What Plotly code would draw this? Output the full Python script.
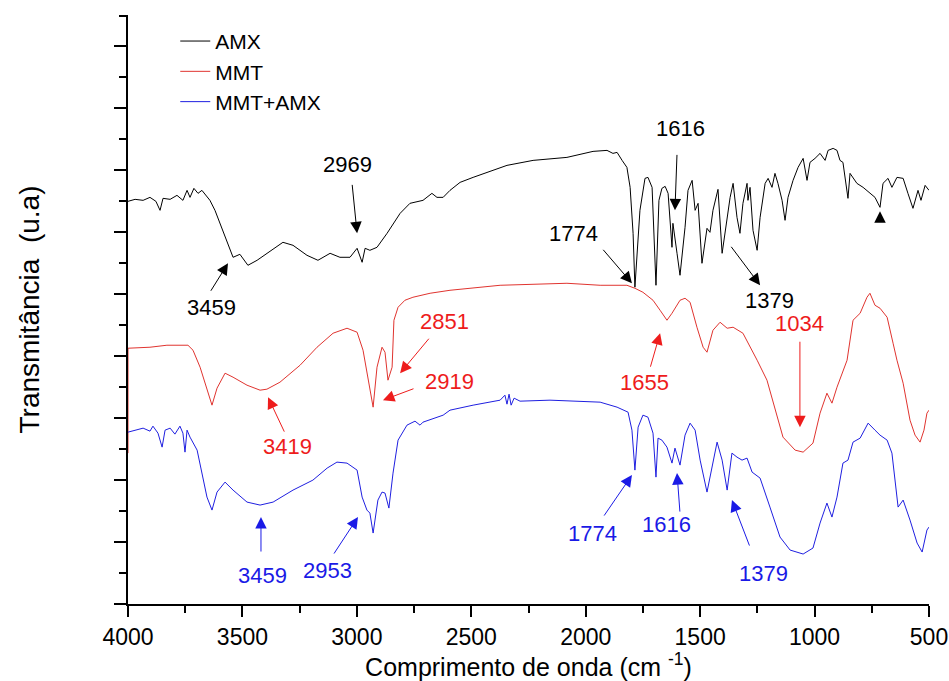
import plotly.graph_objects as go

# ---------------- data (wavenumber cm-1, transmittance in arbitrary units) ----------------
amx_x = [4000, 3969, 3934, 3904, 3878, 3860, 3847, 3816, 3786, 3760, 3742, 3729, 3712, 3694, 3677, 3659, 3642,
         3620, 3585, 3541, 3511, 3476, 3436, 3393, 3323, 3279, 3218, 3170, 3117, 3074, 3030, 2999, 2977, 2964,
         2943, 2912, 2868, 2811, 2768, 2711, 2672, 2650, 2623, 2593, 2549, 2492, 2431, 2388, 2344, 2230, 2082,
         1968, 1907, 1881, 1863, 1841, 1820, 1806, 1793, 1785, 1763, 1741, 1728, 1710, 1693, 1680, 1667, 1653,
         1640, 1623, 1619, 1601, 1588, 1566, 1553, 1535, 1522, 1509, 1492, 1470, 1457, 1444, 1422, 1404, 1391,
         1369, 1356, 1339, 1326, 1313, 1295, 1291, 1282, 1269, 1251, 1238, 1216, 1203, 1186, 1173, 1160, 1142,
         1129, 1116, 1094, 1072, 1050, 1033, 1020, 998, 976, 954, 941, 919, 902, 889, 876, 854, 845, 815, 788,
         758, 736, 714, 701, 679, 662, 640, 613, 592, 570, 548, 535, 517, 500]
amx_y = [403, 405, 404, 407, 403, 394, 406, 405, 409, 404, 414, 407, 416, 411, 414, 409, 404,
         394, 374, 347, 350, 339, 344, 351, 362, 359, 349, 344, 351, 347, 347, 356, 342, 356,
         354, 357, 371, 391, 401, 404, 411, 407, 407, 414, 422, 427, 432, 436, 439, 444, 447,
         453, 454, 451, 452, 444, 437, 417, 371, 317, 394, 426, 427, 417, 319, 404, 416, 418,
         411, 357, 381, 351, 329, 377, 414, 424, 394, 401, 341, 376, 372, 394, 415, 351, 371,
         407, 421, 387, 371, 401, 421, 404, 417, 374, 354, 387, 421, 426, 417, 431, 421, 404,
         384, 407, 424, 437, 446, 424, 442, 446, 451, 444, 454, 456, 454, 444, 442, 406, 431, 421, 417,
         411, 407, 397, 421, 426, 417, 427, 426, 411, 396, 414, 404, 419, 414]

mmt_x = [4000, 4000, 3904, 3830, 3738, 3716, 3685, 3655, 3633, 3611, 3576, 3541, 3480, 3423, 3393, 3336,
         3248, 3174, 3104, 3043, 2999, 2973, 2951, 2929, 2912, 2890, 2877, 2864, 2846, 2838, 2820, 2790,
         2755, 2680, 2593, 2374, 2082, 1937, 1820, 1785, 1750, 1706, 1675, 1645, 1623, 1588, 1566, 1544,
         1514, 1487, 1470, 1444, 1413, 1382, 1356, 1313, 1251, 1208, 1138, 1085, 1050, 1007, 976, 946, 924,
         902, 858, 832, 801, 771, 758, 736, 714, 683, 657, 640, 613, 583, 561, 539, 522, 509, 500]
mmt_y = [151, 256, 257, 259, 259, 254, 237, 214, 199, 216, 231, 227, 219, 214, 215, 222,
         239, 257, 271, 276, 272, 254, 227, 197, 237, 257, 252, 224, 237, 284, 297, 304,
         307, 311, 314, 319, 321, 319, 319, 316, 312, 304, 294, 284, 291, 304, 306, 302,
         277, 257, 252, 274, 282, 276, 277, 271, 244, 224, 167, 154, 152, 161, 191, 211, 201,
         217, 244, 284, 291, 307, 311, 299, 296, 287, 261, 244, 221, 184, 169, 162, 174, 191, 194]

mix_x = [4000, 3969, 3934, 3904, 3891, 3869, 3851, 3838, 3816, 3795, 3773, 3760, 3751, 3742, 3729, 3698,
         3677, 3655, 3633, 3611, 3576, 3541, 3480, 3423, 3366, 3279, 3192, 3130, 3087, 3043, 2999, 2977,
         2956, 2943, 2929, 2908, 2890, 2877, 2860, 2842, 2820, 2781, 2746, 2724, 2711, 2623, 2593, 2492,
         2374, 2353, 2344, 2335, 2326, 2313, 2287, 2156, 1937, 1863, 1815, 1798, 1785, 1771, 1750, 1728,
         1706, 1693, 1684, 1667, 1645, 1623, 1610, 1588, 1566, 1544, 1522, 1500, 1470, 1448, 1426, 1404,
         1382, 1361, 1339, 1317, 1295, 1273, 1238, 1195, 1151, 1107, 1050, 1007, 976, 946, 924, 902, 876,
         854, 832, 801, 766, 736, 714, 683, 662, 635, 613, 583, 552, 530, 509, 500]
mix_y = [172, 174, 176, 173, 178, 171, 157, 174, 176, 170, 178, 171, 152, 174, 167, 154,
         131, 107, 94, 112, 122, 114, 102, 99, 102, 114, 124, 136, 142, 141, 134, 107,
         94, 91, 71, 104, 112, 111, 96, 131, 164, 179, 183, 179, 182, 189, 194, 199,
         204, 209, 200, 210, 199, 206, 203, 204, 202, 197, 192, 174, 134, 177, 189, 187,
         171, 127, 166, 164, 157, 141, 156, 139, 169, 181, 174, 144, 112, 137, 162, 144,
         114, 151, 147, 144, 146, 132, 126, 97, 67, 54, 50, 56, 81, 101, 87, 107, 141,
         144, 162, 166, 181, 174, 169, 164, 151, 97, 104, 84, 61, 52, 74, 77]

series_names = ["AMX", "MMT", "MMT+AMX"]
series_colors = ["#000000", "#e0342f", "#1f1fe0"]

# annotations: label, text position (x, y), arrow tail (x, y), arrow head (x, y), colour index
peak_labels = ["3459", "2969", "1616", "1774", "1379", "",
               "2851", "2919", "3419", "1655", "1034",
               "3459", "2953", "1774", "1616", "1379"]
label_x = [3633, 3043, 1584, 2055, 1199, 714, 2619, 2597, 3305, 1741, 1064, 3414, 3130, 1972, 1645, 1225]
label_y = [297, 440, 476, 371, 304, 381, 283, 223, 158, 222, 281, 29, 34, 71, 80, 31]
tail_x = [3642, 3021, 1601, 1929, 1369, 714, 2680, 2746, 3314, 1719, 1064, 3419, 3104, 1924, 1588, 1282]
tail_y = [312, 421, 451, 356, 359, 381, 267, 216, 171, 236, 264, 51, 49, 87, 91, 57]
head_x = [3563, 2999, 1610, 1798, 1238, 714, 2811, 2886, 3388, 1675, 1064, 3419, 2995, 1798, 1601, 1361]
head_y = [341, 371, 394, 321, 319, 393, 231, 204, 207, 271, 177, 87, 87, 129, 131, 104]
label_color = [0, 0, 0, 0, 0, 0, 1, 1, 1, 1, 1, 2, 2, 2, 2, 2]
text_colors = ["#000000", "#ee1c1c", "#1a1ae6"]

x_ticks = [4000, 3500, 3000, 2500, 2000, 1500, 1000, 500]

FONT = "Liberation Sans, Arial, sans-serif"

fig = go.Figure()
for xs, ys, name, col in zip([amx_x, mmt_x, mix_x], [amx_y, mmt_y, mix_y], series_names, series_colors):
    fig.add_trace(go.Scatter(x=xs, y=ys, mode="lines", name=name,
                             line=dict(color=col, width=1)))

annotations = []
for lab, lx, ly, tx, ty, hx, hy, ci in zip(peak_labels, label_x, label_y, tail_x, tail_y,
                                           head_x, head_y, label_color):
    annotations.append(dict(x=hx, y=hy, ax=tx, ay=ty, xref="x", yref="y", axref="x", ayref="y",
                            text="", showarrow=True, arrowhead=2, arrowsize=2.3, arrowwidth=1,
                            arrowcolor=text_colors[ci], standoff=0, startstandoff=0))
    if lab:
        annotations.append(dict(x=lx, y=ly, xref="x", yref="y", text=lab, showarrow=False,
                                font=dict(family=FONT, size=22, color=text_colors[ci])))

fig.update_layout(
    width=949, height=681,
    margin=dict(l=128, r=20, t=15, b=77, autoexpand=False),
    paper_bgcolor="white", plot_bgcolor="white",
    font=dict(family=FONT, color="black"),
    showlegend=True,
    legend=dict(x=0.059, y=0.99, xanchor="left", yanchor="top", bgcolor="rgba(0,0,0,0)",
                font=dict(family=FONT, size=21, color="black"), tracegroupgap=0,
                itemwidth=30),
    annotations=annotations,
    xaxis=dict(range=[4000, 500], tickmode="array", tickvals=x_ticks,
               ticktext=[str(v) for v in x_ticks], automargin=False,
               showline=True, linecolor="black", linewidth=2, mirror=False,
               ticks="outside", ticklen=11, tickwidth=2, tickcolor="black",
               minor=dict(dtick=250, tick0=500, ticks="outside", ticklen=7, tickwidth=2, tickcolor="black"),
               showgrid=False, zeroline=False,
               tickfont=dict(family=FONT, size=23, color="black"),
               title=dict(text="Comprimento de onda (cm <sup>-1</sup>)", standoff=4,
                          font=dict(family=FONT, size=25, color="black")),
               layer="below traces"),
    yaxis=dict(range=[0, 589.5], tickmode="linear", tick0=0, dtick=62,
               showticklabels=False, automargin=False,
               showline=True, linecolor="black", linewidth=2,
               ticks="outside", ticklen=12, tickwidth=2, tickcolor="black",
               minor=dict(dtick=31, tick0=0, ticks="outside", ticklen=7, tickwidth=2, tickcolor="black"),
               showgrid=False, zeroline=False,
               title=dict(text="Transmitância  (u.a)", standoff=66,
                          font=dict(family=FONT, size=28, color="black")),
               layer="below traces"),
)

fig.write_html("out.html")
